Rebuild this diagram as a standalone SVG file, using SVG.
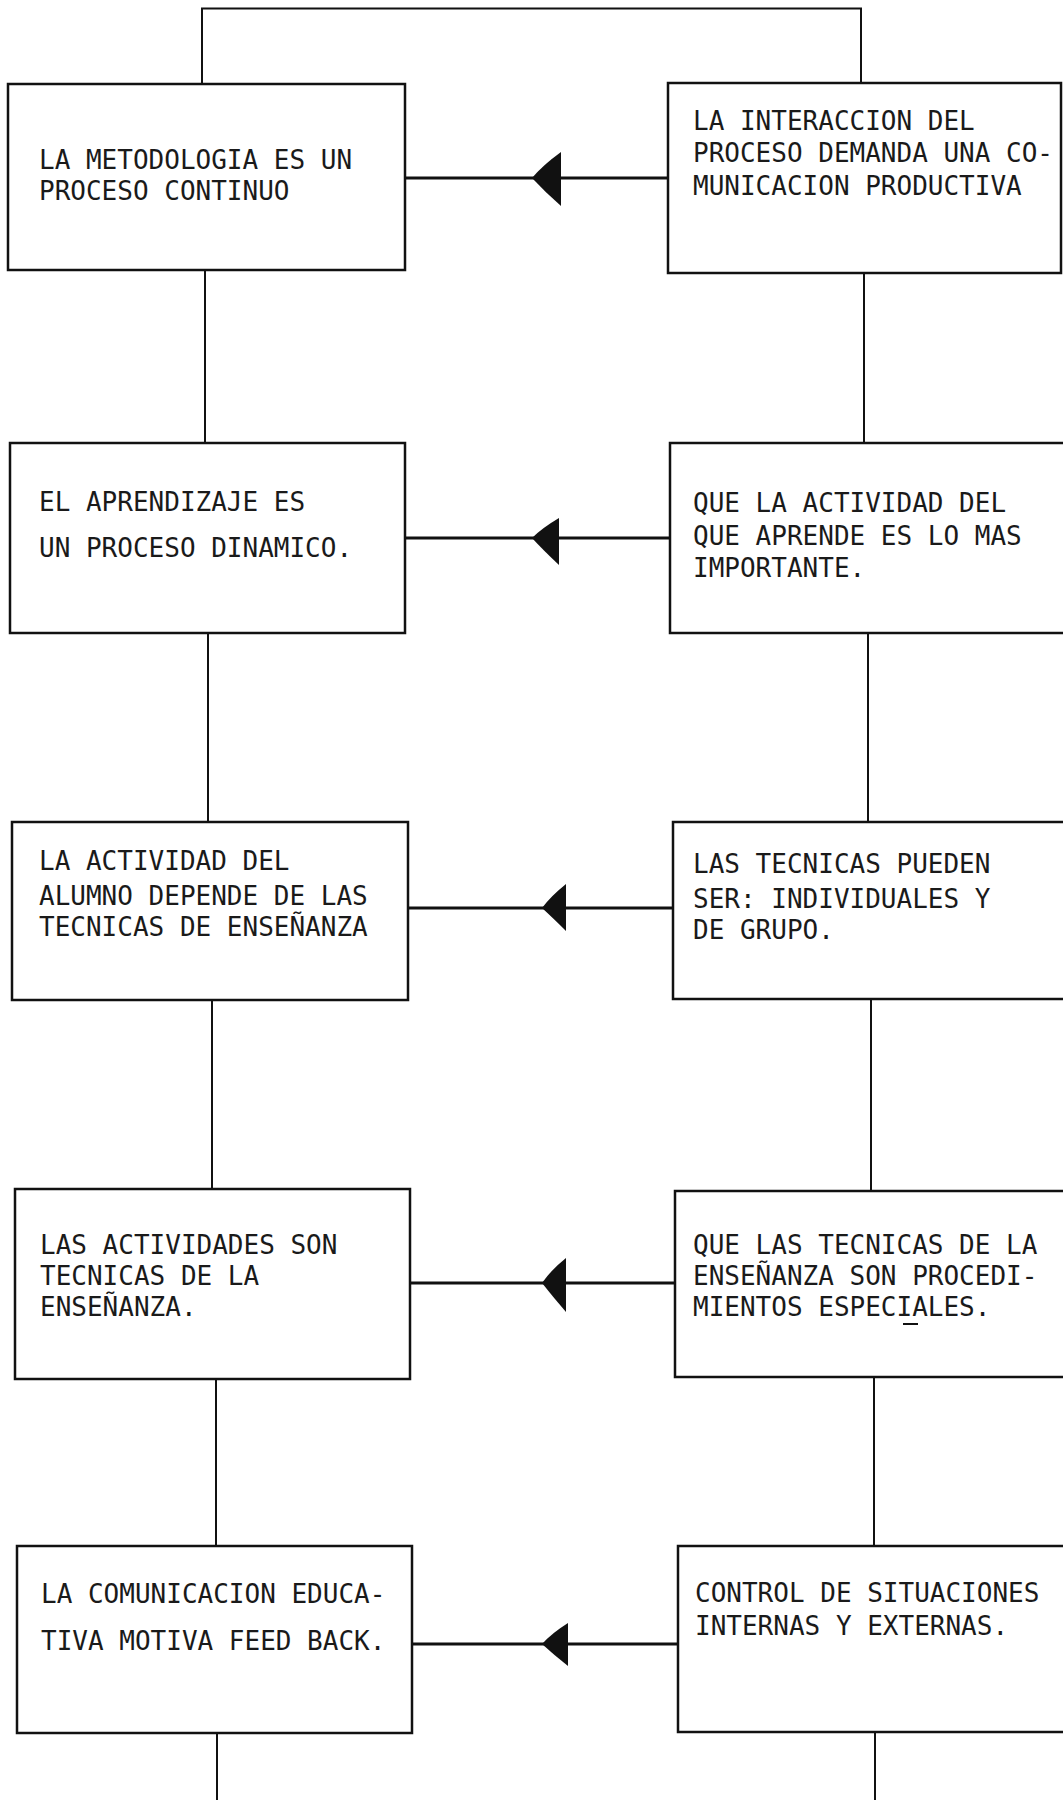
<svg xmlns="http://www.w3.org/2000/svg" width="1063" height="1800" viewBox="0 0 1063 1800">
<style>
.box{fill:#fff;stroke:#111;stroke-width:2.5}
.t{font-family:"DejaVu Sans Mono","Liberation Mono",monospace;font-size:26px;fill:#1a1a1a}
.ln{fill:none;stroke:#111;stroke-width:2}
.ar{fill:none;stroke:#111;stroke-width:2.8}
.hd{fill:#111;stroke:none}
</style>
<rect width="1063" height="1800" fill="#fff"/>
<g id="connectors">
<path class="ln" d="M202,84 V8.5 H861 V83"/>
<path class="ln" d="M205,270 V443 M208,633 V822 M212,1000 V1189 M216,1379 V1546 M217,1733 V1800"/>
<path class="ln" d="M864,273 V443 M868,633 V822 M871,999 V1191 M874,1377 V1546 M875,1732 V1800"/>
<path class="ar" d="M405,178 H668 M405,538 H670 M408,908 H673 M410,1283 H675 M412,1644 H678"/>
<path class="hd" d="M561,152 Q543,165 532,178 Q545,192 561,206 Z"/>
<path class="hd" d="M559,518 Q542,528 532,538 Q543,550 559,565 Z"/>
<path class="hd" d="M566,884 Q551,896 542,908 Q553,918 566,931 Z"/>
<path class="hd" d="M566,1258 Q551,1270 542,1283 Q553,1297 566,1312 Z"/>
<path class="hd" d="M568,1623 Q552,1633 542,1644 Q554,1655 568,1666 Z"/>
</g>
<g id="n1">
<rect class="box" x="8" y="84" width="397" height="186"/>
<text class="t" x="39" y="169">LA METODOLOGIA ES UN</text>
<text class="t" x="39" y="200">PROCESO CONTINUO</text>
</g>
<g id="n2">
<rect class="box" x="668" y="83" width="393" height="190"/>
<text class="t" x="693" y="130">LA INTERACCION DEL</text>
<text class="t" x="693" y="162">PROCESO DEMANDA UNA CO-</text>
<text class="t" x="693" y="195">MUNICACION PRODUCTIVA</text>
</g>
<g id="n3">
<rect class="box" x="10" y="443" width="395" height="190"/>
<text class="t" x="39" y="511">EL APRENDIZAJE ES</text>
<text class="t" x="39" y="557">UN PROCESO DINAMICO.</text>
</g>
<g id="n4">
<rect class="box" x="670" y="443" width="400" height="190"/>
<text class="t" x="693" y="512">QUE LA ACTIVIDAD DEL</text>
<text class="t" x="693" y="545">QUE APRENDE ES LO MAS</text>
<text class="t" x="693" y="577">IMPORTANTE.</text>
</g>
<g id="n5">
<rect class="box" x="12" y="822" width="396" height="178"/>
<text class="t" x="39" y="870">LA ACTIVIDAD DEL</text>
<text class="t" x="39" y="905">ALUMNO DEPENDE DE LAS</text>
<text class="t" x="39" y="936">TECNICAS DE ENSEÑANZA</text>
</g>
<g id="n6">
<rect class="box" x="673" y="822" width="397" height="177"/>
<text class="t" x="693" y="873">LAS TECNICAS PUEDEN</text>
<text class="t" x="693" y="908">SER: INDIVIDUALES Y</text>
<text class="t" x="693" y="939">DE GRUPO.</text>
</g>
<g id="n7">
<rect class="box" x="15" y="1189" width="395" height="190"/>
<text class="t" x="40" y="1254">LAS ACTIVIDADES SON</text>
<text class="t" x="40" y="1285">TECNICAS DE LA</text>
<text class="t" x="40" y="1316">ENSEÑANZA.</text>
</g>
<g id="n8">
<rect class="box" x="675" y="1191" width="395" height="186"/>
<text class="t" x="693" y="1254">QUE LAS TECNICAS DE LA</text>
<text class="t" x="693" y="1285">ENSEÑANZA SON PROCEDI-</text>
<text class="t" x="693" y="1316">MIENTOS ESPECIALES.</text>
<path class="ln" d="M903,1324 H918"/>
</g>
<g id="n9">
<rect class="box" x="17" y="1546" width="395" height="187"/>
<text class="t" x="41" y="1603">LA COMUNICACION EDUCA-</text>
<text class="t" x="41" y="1650">TIVA MOTIVA FEED BACK.</text>
</g>
<g id="n10">
<rect class="box" x="678" y="1546" width="392" height="186"/>
<text class="t" x="695" y="1602">CONTROL DE SITUACIONES</text>
<text class="t" x="695" y="1635">INTERNAS Y EXTERNAS.</text>
</g>
</svg>
